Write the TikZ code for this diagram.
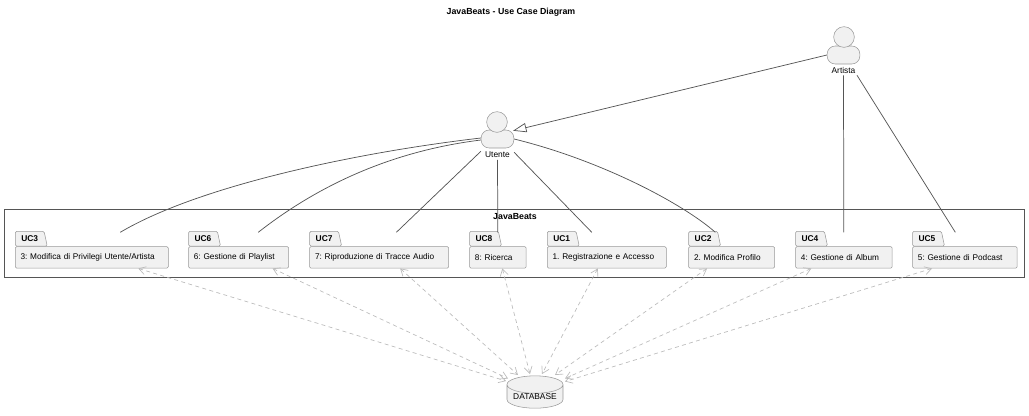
\documentclass[tikz,border=0pt]{standalone}
\usepackage{fontspec}
\setmainfont{Liberation Sans}
\usetikzlibrary{arrows.meta,calc,positioning,shapes.geometric}
\definecolor{pkgfill}{HTML}{F1F1F1}
\definecolor{pkgline}{HTML}{999999}
\definecolor{linkgray}{HTML}{555555}
\definecolor{dbgray}{HTML}{BBBBBB}
\begin{document}
\begin{tikzpicture}[x=0.75pt,y=-0.75pt,every node/.style={font=\fontsize{6.3pt}{7.5pt}\selectfont},
  ucbody/.style={draw=pkgline,fill=pkgfill,rounded corners=1pt,minimum height=16.2pt,inner sep=0pt,anchor=north west,text width=#1*0.75pt-8pt,minimum width=#1*0.75pt,align=left,font=\fontsize{6.2pt}{7.5pt}\selectfont\frenchspacing,execute at begin node={\hbox\bgroup},execute at end node={\egroup}},
  uctab/.style={draw=pkgline,fill=pkgfill,shape=trapezium,trapezium left angle=90,trapezium right angle=73,trapezium stretches=true,minimum width=24pt,minimum height=11pt,inner sep=0pt,rounded corners=1pt,anchor=bottom left corner,font=\fontsize{6.3pt}{7.5pt}\selectfont\bfseries},
  head/.style={draw=pkgline,fill=pkgfill,circle,minimum size=15.5pt,inner sep=0pt},
  actor/.style={draw=pkgline,fill=pkgfill,rounded corners=6pt,minimum width=24.5pt,minimum height=13.5pt,inner sep=0pt},
  link/.style={draw=linkgray,line width=0.55pt},
  dblink/.style={draw=dbgray,line width=0.5pt,dash pattern=on 3pt off 2.5pt,{Straight Barb[length=5pt,width=6pt]}-{Straight Barb[length=5pt,width=6pt]}}]
\useasboundingbox (0,0) rectangle (1029,415);
\node[font=\fontsize{6.6pt}{8pt}\selectfont\bfseries] (title) at (511,12) {JavaBeats - Use Case Diagram};
% boundary
\node[draw=linkgray,line width=0.5pt,minimum width=764.6pt,minimum height=51pt,inner sep=0pt] (system) at (514.3,243.3) {};
\node[font=\fontsize{6.6pt}{8pt}\selectfont\bfseries] (systitle) at (515,217) {JavaBeats};
% packages
\node[ucbody=153] (uc3) at (15,246.3) {3: Modifica di Privilegi Utente/Artista};
\node[uctab] (tab3) at (uc3.north west) {UC3};
\node[ucbody=100] (uc6) at (188.3,246.3) {6: Gestione di Playlist};
\node[uctab] (tab6) at (uc6.north west) {UC6};
\node[ucbody=139] (uc7) at (309.4,246.3) {7: Riproduzione di Tracce Audio};
\node[uctab] (tab7) at (uc7.north west) {UC7};
\node[ucbody=56.5] (uc8) at (469.3,246.3) {8: Ricerca};
\node[uctab] (tab8) at (uc8.north west) {UC8};
\node[ucbody=119] (uc1) at (547,246.3) {1. Registrazione e Accesso};
\node[uctab] (tab1) at (uc1.north west) {UC1};
\node[ucbody=86] (uc2) at (688.4,246.3) {2. Modifica Profilo};
\node[uctab] (tab2) at (uc2.north west) {UC2};
\node[ucbody=96.5] (uc4) at (795.3,246.3) {4: Gestione di Album};
\node[uctab] (tab4) at (uc4.north west) {UC4};
\node[ucbody=104.5] (uc5) at (912.3,246.3) {5: Gestione di Podcast};
\node[uctab] (tab5) at (uc5.north west) {UC5};
% actors
\node[actor] (utente) at (497.5,139) {};
\node[head] (utentehead) at (497,122) {};
\node[below=-1pt of utente] (utentelabel) {Utente};
\node[actor] (artista) at (843.5,55) {};
\node[head] (artistahead) at (844,37) {};
\node[below=-1pt of artista] (artistalabel) {Artista};
\node[draw=pkgline,shape=cylinder,shape border rotate=90,aspect=0.4,minimum width=42pt,minimum height=20pt,inner sep=0pt,cylinder uses custom fill,cylinder body fill=pkgfill,cylinder end fill=pkgfill] (db) at (535,396.5) {DATABASE};
% links
\draw[link] ($(utente.west)+(0,-1)$) .. controls (360,152) and (200,185) .. ($(uc3.north)+(28.5,-14)$);
\draw[link] ($(utente.west)+(0,1)$) .. controls (400,150) and (325,180) .. ($(uc6.north)+(19.7,-14)$);
\draw[link] ($(utente.south west)+(0,3)$) -- ($(uc7.north)+(17.2,-14)$);
\draw[link] ($(utente.south)+(0,11.5)$) -- ($(uc8.north)+(0,-14)$);
\draw[link] ($(utente.south east)+(0,4)$) -- ($(uc1.north)+(-15,-14)$);
\draw[link] (utente.east) .. controls (600,160) and (682,203) .. ($(uc2.north)+(-16.3,-14)$);
\draw[link,-{Triangle[open,length=10pt,width=7pt]}] (artista.west) -- ($(utente.north east)+(-1,1)$);
\draw[link] ($(artista.south)+(0,11)$) -- ($(uc4.north)+(0,-14)$);
\draw[link] ($(artista.south)+(13.5,11)$) -- ($(uc5.north)+(-9.5,-14)$);
% database links
\foreach \uc/\dx/\ex/\ey in {uc3/46.5/-29/-15.5,uc6/34/-27/-18,uc7/21/-17/-21.5,uc8/4.5/-5/-22.5,uc1/-9/7/-22.5,uc2/-24.6/20/-21.5,uc4/-32.5/30/-18,uc5/-32.8/30/-15}
  \draw[dblink] ($(\uc.south)+(\dx,0)$) -- ($(db.center)+(\ex,\ey)$);
\end{tikzpicture}
\end{document}
